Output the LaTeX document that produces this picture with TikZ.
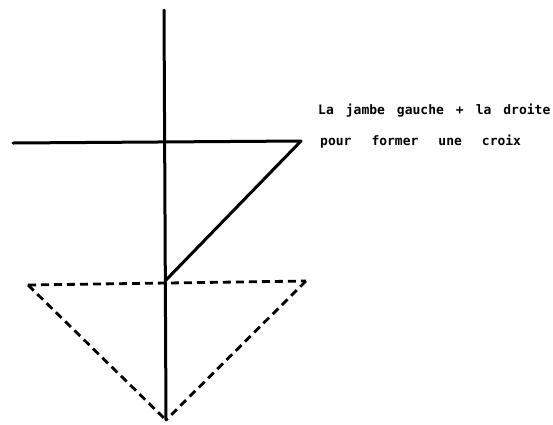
\documentclass[tikz,border=0pt]{standalone}
\usepackage{fontspec}
\newfontfamily\typefont{DejaVu Sans Mono}
\usetikzlibrary{positioning,calc}

\begin{document}
\begin{tikzpicture}[
    x=1pt,
    y=-1pt,
    leg/.style={
        draw=black,
        line width=3pt,
        line cap=round
    },
    ghost/.style={
        draw=black,
        line width=2.8pt,
        dash pattern=on 8pt off 5pt
    },
    caption/.style={
        anchor=west,
        inner sep=0pt,
        font=\typefont\bfseries\fontsize{13}{16}\selectfont
    }
]
\useasboundingbox (0,0) rectangle (553,424);

% points of the figure
\coordinate (top) at (164,10);
\coordinate (foot) at (166,420);
\coordinate (armL) at (13,143);
\coordinate (armR) at (301,141);
\coordinate (knee) at (166,280);
\coordinate (triL) at (28,285);
\coordinate (triR) at (306,281);

% solid legs
\draw[leg] (top) -- (foot);
\draw[leg] (armL) -- (armR);
\draw[leg] (armR) -- (knee);

% dashed triangle
\draw[ghost] (triL) -- (triR);
\draw[ghost] (triL) -- (foot);
\draw[ghost] (triR) -- (foot);

% text
\node[caption] (line1) at (318,111)
{La\hspace{12pt}jambe\hspace{12pt}gauche\hspace{12pt}+\hspace{12pt}la\hspace{12pt}droite};
\node[caption] (line2) at (320,142)
{pour\hspace{20pt}former\hspace{20pt}une\hspace{20pt}croix};

\end{tikzpicture}
\end{document}
